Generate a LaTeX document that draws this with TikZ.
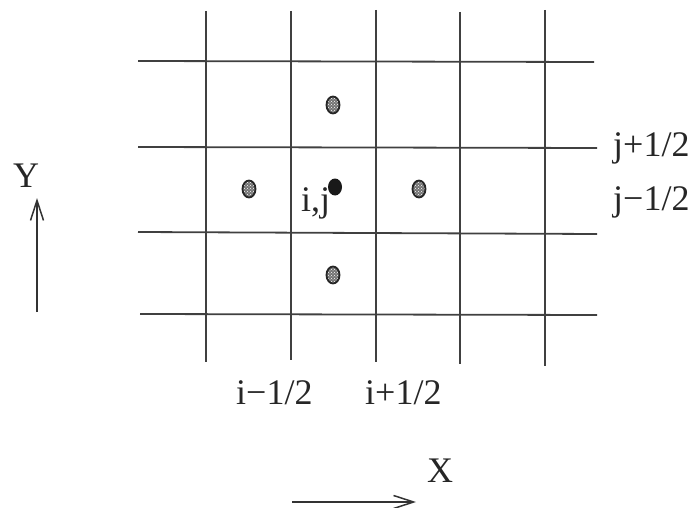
\documentclass[tikz,border=0pt]{standalone}
\usepackage{fontspec}
\setmainfont{Liberation Serif}
\usetikzlibrary{arrows.meta,patterns,shapes.geometric}
\begin{document}
\begin{tikzpicture}[x=1pt,y=-1pt,
  gridline/.style={line width=1.8pt,draw=black!75},
  hatchdot/.style={ellipse,draw=black!85,line width=1.8pt,minimum width=13pt,minimum height=17pt,inner sep=0pt,preaction={fill=black!55},pattern=crosshatch dots,pattern color=white},
  centerdot/.style={ellipse,fill=black!90,minimum width=14pt,minimum height=17pt,inner sep=0pt},
  lbl/.style={anchor=base west,inner sep=0pt,text=black!85,font=\fontsize{36}{40}\selectfont},
  axisarrow/.style={line width=1.5pt,draw=black!80,-{Straight Barb[length=20pt,width=13pt,line width=1.5pt]}}]
\useasboundingbox (0,0) rectangle (696,508);
% vertical grid lines
\foreach \x/\t/\b in {206/11/362, 291/11/360, 376/10/362, 460/12/364, 545/10/366}
  \draw[gridline] (\x,\t) -- (\x,\b);
% horizontal grid lines
\draw[gridline] (138,61) -- (594,62);
\draw[gridline] (138,147) -- (597,148);
\draw[gridline] (138,232) -- (597,234);
\draw[gridline] (140,314) -- (597,315);
% neighbour points
\node[hatchdot] (top) at (333,105) {};
\node[hatchdot] (left) at (249,189) {};
\node[hatchdot] (right) at (419,189) {};
\node[hatchdot] (bottom) at (333,275) {};
\node[centerdot] (c) at (335,187) {};
% labels
\node[lbl] (ij) at (301,211) {i,j};
\node[lbl] (jp) at (613,157) {j+1/2};
\node[lbl] (jm) at (613,210) {j−1/2};
\node[lbl] (im) at (236,404) {i−1/2};
\node[lbl] (ip) at (365,404) {i+1/2};
\node[lbl] (X) at (427,482) {X};
\node[lbl] (Y) at (13,187) {Y};
% axis arrows
\coordinate (xs) at (292,502);
\coordinate (xe) at (416,502);
\coordinate (ys) at (37,312);
\coordinate (ye) at (37,198);
\draw[axisarrow] (xs) -- (xe);
\draw[axisarrow] (ys) -- (ye);
\end{tikzpicture}
\end{document}
